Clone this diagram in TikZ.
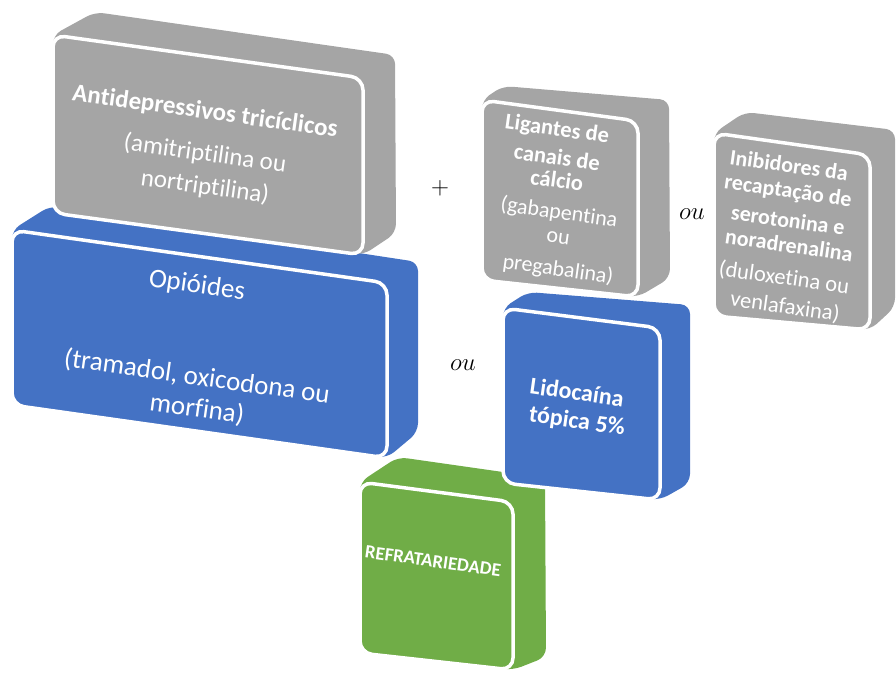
\documentclass[tikz,border=0pt]{standalone}
\usepackage{tikz}
\usepackage{fontspec}
\setmainfont[Ligatures=NoCommon]{Carlito}
\definecolor{offgrey}{HTML}{A5A5A5}
\definecolor{offblue}{HTML}{4472C4}
\definecolor{offgreen}{HTML}{70AD47}
% #1 colour, #2 fTL, #3 fTR, #4 fBR, #5 fBL, #6 bTL, #7 bTR, #8 bBR
\newcommand\cubeblock[8]{%
  \fill[#1, rounded corners=9pt] #2 -- #6 -- #7 -- #8 -- #4 -- #5 -- cycle;
  \filldraw[fill=#1, draw=white, line width=3.5pt, rounded corners=12pt] #2 -- #3 -- #4 -- #5 -- cycle;
}
\begin{document}
\begin{tikzpicture}[x=1pt,y=-1pt,
  lbl/.style={text=white, align=center, rotate=-8, inner sep=0pt},
  sa/.style={lbl, font=\fontsize{25}{30}\selectfont},
  sb/.style={lbl, font=\fontsize{27}{32}\selectfont},
  sc/.style={lbl, font=\fontsize{22}{26}\selectfont},
  sd/.style={lbl, font=\fontsize{22.5}{27}\selectfont},
  op/.style={text=black, inner sep=0pt}]
\useasboundingbox (0,0) rectangle (896,673);
% green: Refratariedade
\cubeblock{offgreen}{(360,482)}{(513,502)}{(513,670)}{(360,653)}{(398,457)}{(545,478)}{(546,657)}
% blue: Lidocaina
\cubeblock{offblue}{(503,308)}{(660,328)}{(660,500)}{(503,483)}{(528,292)}{(690,305)}{(690,483)}
% grey: Ligantes
\cubeblock{offgrey}{(482,100)}{(638,121)}{(638,297)}{(482,280)}{(503,86)}{(669,100)}{(670,278)}
% grey: Inibidores
\cubeblock{offgrey}{(714,133)}{(870,155)}{(870,330)}{(714,316)}{(745,112)}{(895,130)}{(895,307)}
% blue: Opioides
\cubeblock{offblue}{(12,230)}{(387,283)}{(387,458)}{(12,405)}{(50,206)}{(418,262)}{(418,432)}
% grey: Antidepressivos
\cubeblock{offgrey}{(53,35)}{(363,78)}{(363,255)}{(53,213)}{(95,12)}{(395,55)}{(396,233)}

% Antidepressivos
\node[sa, font=\fontsize{25}{30}\selectfont\bfseries] (tca1) at (205,112) {Antidepressivos tricíclicos};
\node[sa] (tca2) at (205,154) {(amitriptilina ou};
\node[sa] (tca3) at (205,187) {nortriptilina)};
% Opioides
\node[sb] (opi1) at (197,286) {Opióides};
\node[sb] (opi2) at (197,377) {(tramadol, oxicodona ou};
\node[sb] (opi3) at (197,409) {morfina)};
% Ligantes
\node[sc, font=\fontsize{22.5}{26}\selectfont\bfseries] (lig1) at (557,130) {Ligantes de};
\node[sc, font=\fontsize{22.5}{26}\selectfont\bfseries] (lig2) at (557,157) {canais de};
\node[sc, font=\fontsize{22.5}{26}\selectfont\bfseries] (lig3) at (557,180) {cálcio};
\node[sc] (lig4) at (559,213) {(gabapentina};
\node[sc] (lig5) at (558,238) {ou};
\node[sc] (lig6) at (558,270) {pregabalina)};
% Inibidores
\node[sd, font=\fontsize{22}{26}\selectfont\bfseries] (ini1) at (789,165) {Inibidores da};
\node[sd, font=\fontsize{22}{26}\selectfont\bfseries] (ini2) at (788,192) {recaptação de};
\node[sd, font=\fontsize{22}{26}\selectfont\bfseries] (ini3) at (788,220) {serotonina e};
\node[sd, font=\fontsize{22}{26}\selectfont\bfseries] (ini4) at (789,245) {noradrenalina};
\node[sd] (ini5) at (784,278) {(duloxetina ou};
\node[sd] (ini6) at (785,307) {venlafaxina)};
% Lidocaina
\node[lbl, font=\fontsize{24}{28}\selectfont\bfseries] (lid1) at (577,392) {Lidocaína};
\node[lbl, font=\fontsize{24}{28}\selectfont\bfseries] (lid2) at (577,422) {tópica 5\%};
% Refratariedade
\node[lbl, font=\fontsize{18.8}{22}\selectfont\bfseries] (ref) at (433,561) {REFRATARIEDADE};

\node[op, font=\fontsize{28}{32}\selectfont] (plus) at (440,188) {$+$};
\node[op, font=\fontsize{31}{34}\selectfont] (ou1) at (692,214) {$ou$};
\node[op, font=\fontsize{31}{34}\selectfont] (ou2) at (463,365) {$ou$};
\end{tikzpicture}
\end{document}
